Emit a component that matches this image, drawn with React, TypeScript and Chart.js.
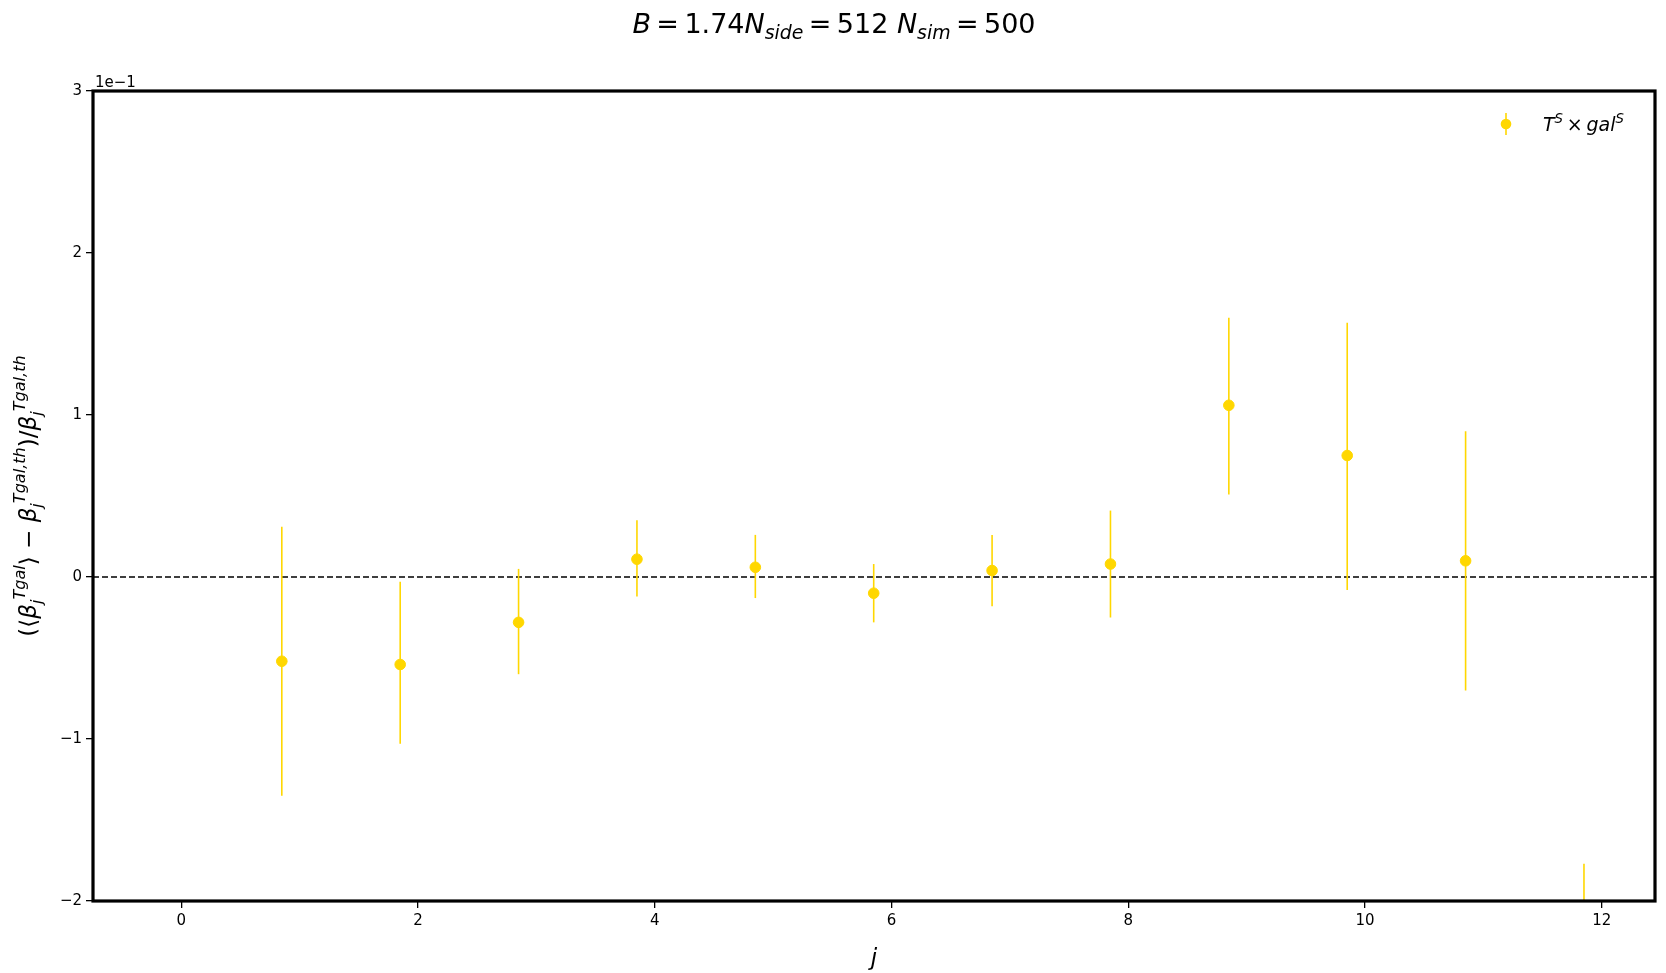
import React, { useEffect, useRef } from "react";
import { Chart, registerables } from "chart.js";
Chart.register(...registerables);

const xs = [0.85, 1.85, 2.85, 3.85, 4.85, 5.85, 6.85, 7.85, 8.85, 9.85, 10.85, 11.85];
const ys = [-0.52, -0.54, -0.28, 0.11, 0.06, -0.1, 0.04, 0.08, 1.06, 0.75, 0.1, -2.6];
const errLo = [-1.35, -1.03, -0.6, -0.12, -0.13, -0.28, -0.18, -0.25, 0.51, -0.08, -0.7, -3.4];
const errHi = [0.31, -0.03, 0.05, 0.35, 0.26, 0.08, 0.26, 0.41, 1.6, 1.57, 0.9, -1.77];
const xTicks = [0, 2, 4, 6, 8, 10, 12];
const yTicks = [-2, -1, 0, 1, 2, 3];
const GOLD = "#FFD700";
const FONT = "DejaVu Sans";

type Seg = { t: string; s?: number; dy?: number; it?: boolean };
function drawSegs(ctx: CanvasRenderingContext2D, segs: Seg[], x: number, y: number, base: number, align: "center" | "left") {
  const font = (s: Seg) => `${s.it ? "italic " : ""}${base * (s.s || 1)}px ${FONT}`;
  let w = 0;
  for (const s of segs) { ctx.font = font(s); w += ctx.measureText(s.t).width; }
  let cx = align === "center" ? x - w / 2 : x;
  ctx.textBaseline = "alphabetic"; ctx.textAlign = "left";
  for (const s of segs) { ctx.font = font(s); ctx.fillText(s.t, cx, y + (s.dy || 0)); cx += ctx.measureText(s.t).width; }
}

const fmt = (v: number) => String(v).replace("-", "\u2212");

const deco = {
  id: "deco",
  afterDatasetsDraw(chart: any) {
    const { ctx, chartArea: a, scales } = chart;
    const sx = scales.x, sy = scales.y;
    ctx.save();
    ctx.beginPath(); ctx.rect(a.left, a.top, a.right - a.left, a.bottom - a.top); ctx.clip();
    ctx.strokeStyle = "#000"; ctx.lineWidth = 1.6; ctx.setLineDash([6, 3]);
    ctx.beginPath(); ctx.moveTo(a.left, sy.getPixelForValue(0)); ctx.lineTo(a.right, sy.getPixelForValue(0)); ctx.stroke();
    ctx.setLineDash([]);
    ctx.strokeStyle = GOLD; ctx.lineWidth = 1.6;
    xs.forEach((x, i) => {
      const px = sx.getPixelForValue(x);
      ctx.beginPath(); ctx.moveTo(px, sy.getPixelForValue(errLo[i])); ctx.lineTo(px, sy.getPixelForValue(errHi[i])); ctx.stroke();
    });
    ctx.restore();
    ctx.save();
    ctx.strokeStyle = "#000"; ctx.lineWidth = 3.2;
    ctx.strokeRect(a.left, a.top, a.right - a.left, a.bottom - a.top);
    ctx.fillStyle = "#000";
    drawSegs(ctx, [{ t: "B", it: true }, { t: "\u2009=\u20091.74" }, { t: "N", it: true }, { t: "side", it: true, s: 0.7, dy: 6 }, { t: "\u2009=\u2009512 " }, { t: "N", it: true }, { t: "sim", it: true, s: 0.7, dy: 6 }, { t: "\u2009=\u2009500" }], 834, 33, 27, "center");
    ctx.font = `15px ${FONT}`; ctx.textAlign = "left"; ctx.fillText("1e\u22121", 95, 87);
    ctx.strokeStyle = GOLD; ctx.lineWidth = 1.6;
    ctx.beginPath(); ctx.moveTo(1506, 113); ctx.lineTo(1506, 135); ctx.stroke();
    ctx.fillStyle = GOLD; ctx.beginPath(); ctx.arc(1506, 124, 5.3, 0, Math.PI * 2); ctx.fill();
    ctx.fillStyle = "#000";
    drawSegs(ctx, [{ t: "T", it: true }, { t: "S", it: true, s: 0.7, dy: -8 }, { t: "\u2009\u00d7\u2009" }, { t: "gal", it: true }, { t: "S", it: true, s: 0.7, dy: -8 }], 1543, 131, 19, "left");
    ctx.translate(36, 496); ctx.rotate(-Math.PI / 2);
    drawSegs(ctx, [{ t: "(\u27e8" }, { t: "\u03b2", it: true }, { t: "j", it: true, s: 0.7, dy: 6 }, { t: "Tgal", it: true, s: 0.7, dy: -11 }, { t: "\u27e9 \u2212 " }, { t: "\u03b2", it: true }, { t: "j", it: true, s: 0.7, dy: 6 }, { t: "Tgal,th", it: true, s: 0.7, dy: -11 }, { t: ")/" }, { t: "\u03b2", it: true }, { t: "j", it: true, s: 0.7, dy: 6 }, { t: "Tgal,th", it: true, s: 0.7, dy: -11 }], 0, 0, 23, "center");
    ctx.restore();
  },
};

export default function App() {
  const ref = useRef<HTMLCanvasElement>(null);
  useEffect(() => {
    const c = new Chart(ref.current!, {
      type: "scatter",
      data: { datasets: [{ data: xs.map((x, i) => ({ x, y: ys[i] })), backgroundColor: GOLD, borderColor: GOLD, pointRadius: 5.3, pointHoverRadius: 5.3 }] },
      options: {
        animation: false, responsive: false, devicePixelRatio: 1,
        layout: { padding: { left: 0, top: 91, right: 11, bottom: 0 } },
        plugins: { legend: { display: false }, tooltip: { enabled: false } },
        scales: {
          x: {
            type: "linear", min: -0.745, max: 12.45,
            afterBuildTicks: (s: any) => { s.ticks = xTicks.map((v) => ({ value: v })); },
            afterFit: (s: any) => { s.height = 72; },
            grid: { drawOnChartArea: false, drawTicks: true, tickLength: 7, color: "#000", lineWidth: 1.3 },
            border: { display: false },
            ticks: { color: "#000", font: { family: FONT, size: 15 }, padding: 4, callback: (v: any) => fmt(v) },
            title: { display: true, text: "j", color: "#000", font: { family: FONT, size: 23, style: "italic" }, padding: { top: 2, bottom: 0 } },
          },
          y: {
            type: "linear", min: -2, max: 3,
            afterBuildTicks: (s: any) => { s.ticks = yTicks.map((v) => ({ value: v })); },
            afterFit: (s: any) => { s.width = 93; },
            grid: { drawOnChartArea: false, drawTicks: true, tickLength: 7, color: "#000", lineWidth: 1.3 },
            border: { display: false },
            ticks: { color: "#000", font: { family: FONT, size: 15 }, padding: 4, callback: (v: any) => fmt(v) },
          },
        },
      },
      plugins: [deco],
    } as any);
    return () => c.destroy();
  }, []);
  return (
    <div style={{ position: "fixed", left: 0, top: 0, background: "#fff" }}>
      <canvas ref={ref} width={1666} height={973} style={{ width: 1666, height: 973 }} />
    </div>
  );
}
